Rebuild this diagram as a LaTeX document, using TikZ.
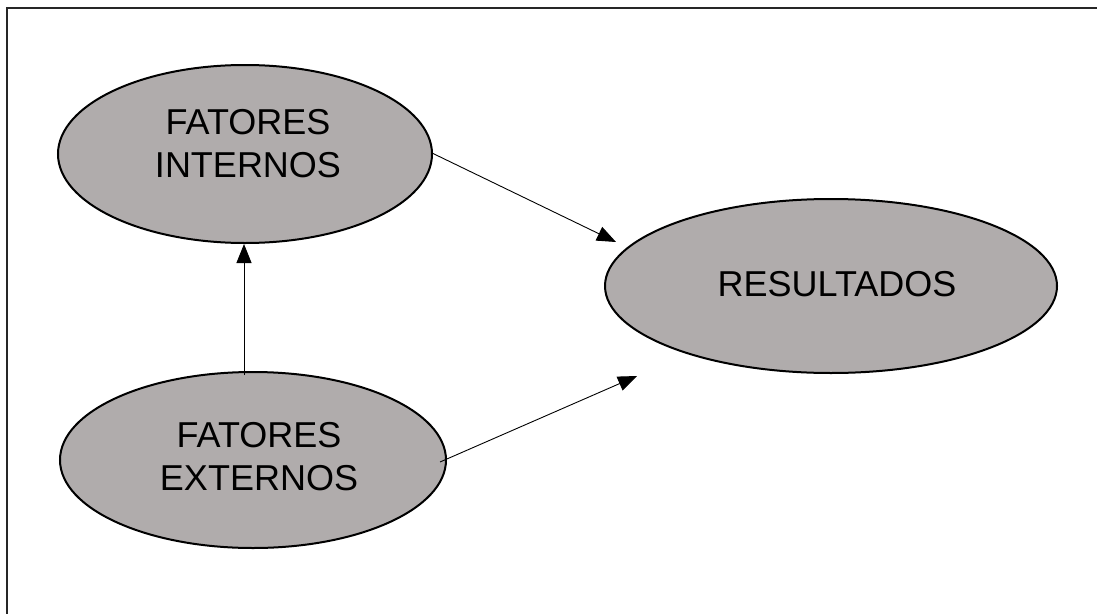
\documentclass[tikz,border=0pt]{standalone}
\usepackage{fontspec}
\setmainfont{Liberation Sans}
\usetikzlibrary{shapes.geometric,arrows.meta}
\definecolor{ellfill}{RGB}{176,172,172}
\begin{document}
\begin{tikzpicture}[x=1pt,y=-1pt,
  ell/.style={draw=black,line width=2pt,fill=ellfill,ellipse,inner sep=0pt},
  txt/.style={align=center,font=\fontsize{36}{43}\selectfont},
  arr/.style={line width=0.9pt,-{Triangle[length=19pt,width=15pt]}}]
\useasboundingbox (0,0) rectangle (1097,613);
\draw[line width=1.4pt,draw=black!85] (7,8) rectangle (1110,630);
\draw[ell] (245,154) ellipse [x radius=187,y radius=89];
\node[txt] (int) at (248,144) {FATORES\\INTERNOS};
\draw[ell] (831,286) ellipse [x radius=226,y radius=87];
\node[txt] (res) at (837,284) {RESULTADOS};
\draw[ell] (253,460) ellipse [x radius=193,y radius=88];
\node[txt] (ext) at (259,457) {FATORES\\EXTERNOS};
\coordinate (a1) at (432,153);
\coordinate (a1e) at (616,242);
\coordinate (a2) at (244,375);
\coordinate (a2e) at (244,244);
\coordinate (a3) at (440,462);
\coordinate (a3e) at (637,376);
\draw[arr] (a1) -- (a1e);
\draw[arr] (a2) -- (a2e);
\draw[arr] (a3) -- (a3e);
\end{tikzpicture}
\end{document}
